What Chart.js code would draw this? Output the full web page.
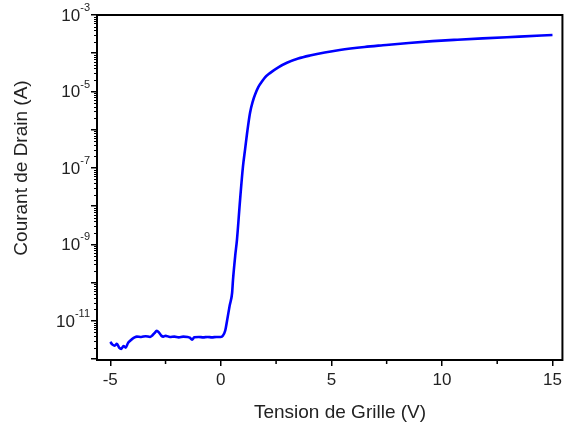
<!DOCTYPE html>
<html><head><meta charset="utf-8">
<script src="https://cdn.jsdelivr.net/npm/chart.js@4/dist/chart.umd.min.js"></script>
<style>html,body{margin:0;padding:0;background:#fff}#wrap{width:566px;height:427px}</style>
</head><body><div id="wrap"><canvas id="c" width="566" height="427"></canvas></div>
<script>
const gateVoltage = [-5.0,-4.9,-4.8,-4.7,-4.6,-4.5,-4.4,-4.3,-4.2,-4.1,-4.0,-3.9,-3.8,-3.6,-3.4,-3.2,-3.1,-3.0,-2.9,-2.8,-2.7,-2.6,-2.5,-2.3,-2.1,-1.9,-1.7,-1.5,-1.4,-1.3,-1.2,-1.0,-0.8,-0.6,-0.4,-0.2,0.0,0.1,0.2,0.28,0.4,0.51,0.55,0.65,0.73,0.87,1.0,1.1,1.19,1.32,1.45,1.55,1.7,1.86,2.0,2.22,2.6,2.99,3.5,4.03,4.7,5.38,6.5,7.33,8.5,9.58,10.7,11.84,13.5,15.0];
const drainCurrent = [2.82e-12,2.40e-12,2.24e-12,2.51e-12,2.00e-12,1.86e-12,2.19e-12,2.00e-12,2.63e-12,3.02e-12,3.39e-12,3.72e-12,3.89e-12,3.80e-12,3.98e-12,3.80e-12,4.17e-12,4.79e-12,5.50e-12,5.01e-12,4.17e-12,3.89e-12,4.07e-12,3.80e-12,3.89e-12,3.72e-12,3.89e-12,3.80e-12,3.63e-12,3.24e-12,3.72e-12,3.80e-12,3.72e-12,3.80e-12,3.72e-12,3.80e-12,3.80e-12,4.17e-12,5.62e-12,1.0e-11,2.51e-11,5.37e-11,1.17e-10,5.01e-10,1.32e-9,1.45e-8,1.07e-7,3.16e-7,8.32e-7,2.75e-6,5.62e-6,8.32e-6,1.32e-5,1.82e-5,2.34e-5,3.02e-5,4.27e-5,5.62e-5,7.24e-5,8.71e-5,1.05e-4,1.22e-4,1.46e-4,1.62e-4,1.86e-4,2.07e-4,2.26e-4,2.45e-4,2.72e-4,2.99e-4];
const xMajorTicks = [-5,0,5,10,15];
const xMinorTicks = [-2.5,2.5,7.5,12.5];
const yDecadeExponents = [-12,-11,-10,-9,-8,-7,-6,-5,-4,-3];
const yLabelExponents = [-3,-5,-7,-9,-11];
const xTitle = "Tension de Grille (V)";
const yTitle = "Courant de Drain (A)";

const FONT = "'Liberation Sans', Arial, sans-serif";

const framePlugin = {
  id: 'frame',
  afterDraw(chart) {
    const ctx = chart.ctx, a = chart.chartArea;
    const xs = chart.scales.x, ys = chart.scales.y;
    ctx.save();
    ctx.strokeStyle = '#000';
    ctx.lineWidth = 2;
    ctx.strokeRect(a.left, a.top, a.right - a.left, a.bottom - a.top);
    ctx.lineWidth = 1.2;
    ctx.beginPath();
    for (let d = -13; d <= -4; d++) {
      for (let k = 2; k <= 9; k++) {
        const v = k * Math.pow(10, d);
        if (v < ys.min || v > ys.max) continue;
        const p = Math.round(ys.getPixelForValue(v)) + 0.5;
        ctx.moveTo(a.left, p); ctx.lineTo(a.left - 3, p);
      }
    }
    ctx.stroke();
    ctx.lineWidth = 1.5;
    ctx.beginPath();
    xMinorTicks.forEach(v => {
      const p = xs.getPixelForValue(v);
      ctx.moveTo(p, a.bottom); ctx.lineTo(p, a.bottom + 4);
    });
    ctx.stroke();
    // y tick labels: 10 with superscript exponent
    ctx.fillStyle = '#222';
    ctx.textBaseline = 'middle';
    yLabelExponents.forEach(e => {
      const p = ys.getPixelForValue(Math.pow(10, e));
      const sup = '-' + String(-e);
      ctx.font = '11px ' + FONT;
      const sw = ctx.measureText(sup).width;
      const right = a.left - 7;
      ctx.textAlign = 'right';
      ctx.fillText(sup, right, p - 7);
      ctx.font = '17px ' + FONT;
      ctx.fillText('10', right - sw, p + 1);
    });
    // axis titles
    ctx.font = '19px ' + FONT;
    ctx.textAlign = 'center';
    ctx.textBaseline = 'middle';
    ctx.fillText(xTitle, 340, 413);
    ctx.translate(22, 168);
    ctx.rotate(-Math.PI / 2);
    ctx.fillText(yTitle, 0, 0);
    ctx.restore();
  }
};

new Chart(document.getElementById('c'), {
  type: 'line',
  data: {
    datasets: [{
      data: gateVoltage.map((v, i) => ({x: v, y: drainCurrent[i]})),
      borderColor: '#0000ff',
      borderWidth: 2.6,
      pointRadius: 0,
      fill: false,
      cubicInterpolationMode: 'monotone'
    }]
  },
  plugins: [framePlugin],
  options: {
    responsive: false,
    animation: false,
    devicePixelRatio: 1,
    layout: { padding: { left: 0, top: 15, right: 3, bottom: 0 } },
    plugins: { legend: { display: false }, tooltip: { enabled: false } },
    scales: {
      x: {
        type: 'linear',
        min: -5.6, max: 15.45,
        afterBuildTicks: s => { s.ticks = xMajorTicks.map(v => ({value: v})); },
        afterFit: s => { s.height = 67; },
        border: { display: false },
        grid: { drawOnChartArea: false, tickLength: 6, color: '#000', lineWidth: 1.5 },
        ticks: { color: '#222', font: { family: FONT, size: 17 }, padding: 4, maxRotation: 0,
                 callback: v => String(v) },
        title: { display: false }
      },
      y: {
        type: 'logarithmic',
        min: 9.5e-13, max: 1e-3,
        afterBuildTicks: s => { s.ticks = yDecadeExponents.map(e => ({value: Math.pow(10, e)})); },
        afterFit: s => { s.width = 97; },
        border: { display: false },
        grid: { drawOnChartArea: false, tickLength: 6, color: '#000', lineWidth: 1.5 },
        ticks: { display: false },
        title: { display: false }
      }
    }
  }
});
</script></body></html>
